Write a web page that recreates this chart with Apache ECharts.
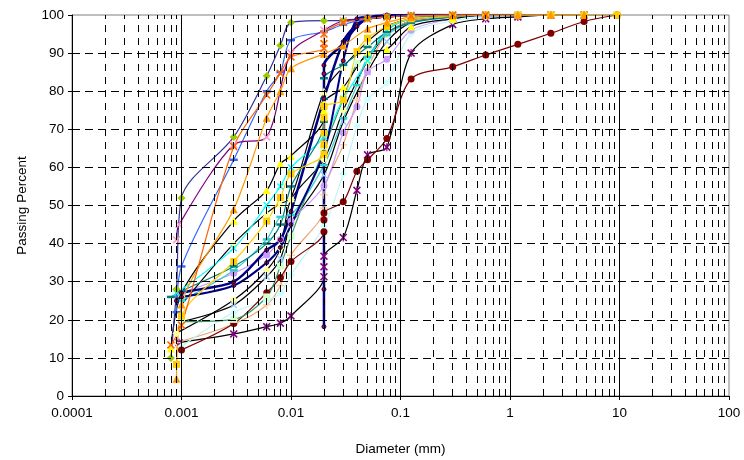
<!DOCTYPE html>
<html>
<head>
<meta charset="utf-8">
<script src="https://cdn.jsdelivr.net/npm/echarts@6/dist/echarts.min.js"></script>
<style>
  html, body { margin: 0; padding: 0; background: #fff; }
  #chart { width: 744px; height: 460px; }
</style>
</head>
<body>
<div id="chart"></div>
<script>
// Grain size distribution curves: [diameter (mm), percent passing]
const xTickLabels = ['0.0001', '0.001', '0.01', '0.1', '1', '10', '100'];
const percentLines = [10, 20, 30, 40, 50, 60, 70, 80, 90];
const decadeLines = [0.001, 0.01, 0.1, 1, 10];
const decadeStarts = [0.0001, 0.001, 0.01, 0.1, 1, 10];
const minorMultiples = [2, 3, 4, 5, 6, 7, 8, 9];

const sampleLime = [[0.0008,10],[0.0009,28],[0.001,52],[0.003,68],[0.006,84],[0.008,92],[0.01,98],[0.02,98.5],[0.03,98.5],[0.05,99],[0.075,99.5],[0.125,99.8],[0.3,100],[0.6,100],[1.18,100],[2.36,100],[4.75,100],[9.5,100]];
const samplePink = [[0.0009,41],[0.00095,45],[0.003,66],[0.006,68],[0.01,90],[0.02,96],[0.03,98.5],[0.05,99],[0.075,99.5],[0.125,100],[0.3,100],[0.6,100],[1.18,100],[2.36,100]];
const sampleOrangeX = [[0.0008,13.4],[0.001,18.6],[0.003,65.5],[0.006,79],[0.008,84.7],[0.01,89],[0.02,91.2],[0.02,92.5],[0.02,95],[0.03,98],[0.05,99],[0.075,99.5],[0.125,99.8],[0.3,100],[0.6,100]];
const sampleBlue = [[0.0009,22],[0.001,34],[0.003,62],[0.006,80],[0.008,85],[0.01,93.4],[0.02,95.6],[0.03,97.5],[0.05,99],[0.075,99.5],[0.125,100],[0.3,100],[0.6,100],[1.18,100]];
const sampleOrangeTri = [[0.0009,4.5],[0.001,24],[0.003,49],[0.006,73],[0.008,80],[0.01,86],[0.02,89.8],[0.03,92],[0.05,96.4],[0.075,98],[0.125,99.5],[0.3,100],[0.6,100],[1.18,100],[2.36,100],[4.75,100]];
const sampleYellow = [[0.0008,12.5],[0.001,27],[0.003,46],[0.006,54],[0.008,61],[0.01,63],[0.02,73],[0.02,75],[0.02,77],[0.03,81],[0.05,90],[0.075,91],[0.125,97],[0.3,99],[0.6,100],[1.18,100],[2.36,100]];
const sampleCyan = [[0.0009,27],[0.003,38.8],[0.006,50.1],[0.008,55],[0.01,60],[0.02,68],[0.03,78],[0.05,88],[0.075,96],[0.125,99],[0.3,100],[0.6,100]];
const sampleGold = [[0.0009,8.3],[0.001,21],[0.003,35.3],[0.006,45.9],[0.008,52.1],[0.01,58.3],[0.02,63.5],[0.02,66],[0.02,69],[0.02,73],[0.02,76],[0.03,77.7],[0.04,90.4],[0.05,93.9],[0.075,97],[0.125,99],[0.3,99.6],[0.6,100],[1.18,100],[2.36,100],[4.75,100],[9.5,100]];
const sampleLavender = [[0.001,27],[0.003,32.2],[0.006,37],[0.008,41.1],[0.01,45.9],[0.02,55.1],[0.03,69.1],[0.04,75.9],[0.05,85.1],[0.075,88.4],[0.125,96],[0.3,99],[0.6,100],[1.18,100]];
const sampleNavyA = [[0.02,18.2],[0.02,28],[0.02,84.6],[0.02,86.8],[0.03,92.5],[0.04,97],[0.05,99],[0.075,99.6],[0.125,100],[0.3,100],[0.6,100],[1.18,100]];
const sampleNavyB = [[0.0009,25],[0.001,27],[0.003,30],[0.006,38.3],[0.008,41],[0.01,48.4],[0.02,78],[0.03,93],[0.04,97.5],[0.05,99],[0.075,99.7],[0.125,100],[0.3,100]];
const sampleNavyC = [[0.001,26],[0.003,29],[0.006,35],[0.008,39],[0.01,45],[0.02,64],[0.03,88],[0.04,99],[0.05,99.5],[0.075,100],[0.125,100]];
const sampleAqua = [[0.001,25],[0.003,33],[0.006,41.1],[0.008,47],[0.01,47.5],[0.02,60.6],[0.03,72.9],[0.04,81.6],[0.05,89],[0.075,94.7],[0.125,98],[0.3,99.5],[0.6,100]];
const sampleTeal = [[0.0008,26],[0.001,27.5],[0.003,34],[0.006,40],[0.008,45],[0.01,55],[0.02,72],[0.02,78],[0.02,83.4],[0.03,86.9],[0.05,91.6],[0.075,95.5],[0.125,98],[0.3,99.5],[0.6,100]];
const sampleAsterisk = [[0.00095,14],[0.003,16.3],[0.006,18.2],[0.008,19.1],[0.01,21],[0.02,31.3],[0.02,33.9],[0.02,36.7],[0.03,41.6],[0.04,54],[0.05,63.3],[0.075,65.3],[0.125,90],[0.3,97.5],[0.6,99],[1.18,99.5],[2.36,100],[4.75,100]];
const sampleDarkRed = [[0.001,12.1],[0.003,19],[0.006,27.1],[0.008,31.1],[0.01,35.3],[0.02,43.1],[0.02,46.2],[0.02,48],[0.03,51],[0.04,59],[0.05,62],[0.075,67.6],[0.125,83.2],[0.3,86.4],[0.6,89.5],[1.18,92.3],[2.36,95.2],[4.75,98.3],[9.5,100]];
const sampleTan = [[0.0009,14],[0.003,18.9],[0.006,23.9],[0.008,29],[0.01,37],[0.02,49.3],[0.02,52.8],[0.03,65.9],[0.04,77.7],[0.05,86],[0.075,95],[0.125,98.5],[0.3,99.5],[0.6,100]];
const sampleIce = [[0.001,13],[0.003,22],[0.006,25],[0.008,27],[0.01,31.8],[0.02,44.6],[0.03,58.3],[0.04,70.9],[0.05,77.9],[0.075,82.2],[0.125,95],[0.3,98.5],[0.6,99.5],[1.18,100]];
const sampleMint = [[0.001,19.5],[0.003,20.1],[0.006,26],[0.008,34.1],[0.01,42],[0.02,65],[0.03,78],[0.04,87.3],[0.05,89],[0.075,96],[0.125,99],[0.3,100],[0.6,100]];
const sampleCream = [[0.0009,16.5],[0.003,25.2],[0.006,33],[0.008,38.8],[0.01,51.6],[0.02,62],[0.03,75],[0.05,88],[0.075,95],[0.125,98.5],[0.3,99.5],[0.6,100]];
const sampleSky = [[0.001,19.5],[0.003,23.9],[0.006,31.3],[0.008,36],[0.01,44.9],[0.02,58],[0.03,72],[0.05,85],[0.075,93],[0.125,98],[0.3,99.5],[0.6,100]];
const sampleButter = [[0.001,24],[0.003,40],[0.006,48],[0.008,50.5],[0.01,51.9],[0.02,79.9],[0.03,86.4],[0.05,93],[0.075,97],[0.125,99],[0.3,100]];

// marker shapes
const SYM_X = 'path://M0,1.4L1.4,0L5,3.6L8.6,0L10,1.4L6.4,5L10,8.6L8.6,10L5,6.4L1.4,10L0,8.6L3.6,5Z';
const SYM_STAR = 'path://M0,1.4L1.4,0L5,3.6L8.6,0L10,1.4L6.4,5L10,8.6L8.6,10L5,6.4L1.4,10L0,8.6L3.6,5Z M4.3,0L5.7,0L5.7,10L4.3,10Z';
const SYM_PLUS = 'path://M4.2,0H5.8V4.2H10V5.8H5.8V10H4.2V5.8H0V4.2H4.2Z';
const DASH = { symbol: 'rect', size: [8, 2.5] };

function curve(data, lineColor, markerColor, symbol, size, width, border) {
  return {
    type: 'line',
    data: data,
    smooth: 0.3,
    symbol: symbol,
    symbolSize: size,
    showSymbol: symbol !== 'none',
    lineStyle: { color: lineColor, width: width || 1.2 },
    itemStyle: Object.assign({ color: markerColor }, border || {}),
    emphasis: { disabled: true },
    silent: true
  };
}

const redDot = { borderColor: '#000080', borderWidth: 1 };

const series = [
  curve(sampleAsterisk, '#000000', '#800080', SYM_STAR, 8),
  curve(sampleCream, '#000000', '#FFFF99', 'diamond', 8),
  curve(sampleSky, '#000000', '#99CCFF', SYM_X, 7),
  curve(sampleTan, '#E8A878', '#FFCC99', SYM_PLUS, 8),
  curve(sampleIce, '#BFF5F5', '#CCFFFF', 'diamond', 8),
  curve(sampleDarkRed, '#800000', '#800000', 'circle', 7),
  curve(sampleMint, '#339966', '#CCFFCC', 'rect', 7),
  curve(sampleLavender, '#CC99FF', '#CC99FF', 'circle', 7),
  curve(sampleButter, '#000000', '#FFFF99', 'triangle', 8),
  curve(sampleYellow, '#000000', '#FFFF00', 'triangle', 8),
  curve(sampleCyan, '#00FFFF', '#00FFFF', SYM_X, 7),
  curve(sampleAqua, '#33CCCC', '#33CCCC', DASH.symbol, DASH.size),
  curve(sampleTeal, '#008080', '#008080', DASH.symbol, DASH.size),
  curve(sampleNavyC, '#000080', '#CC0000', 'circle', 4, 2, redDot),
  curve(sampleNavyB, '#000080', '#CC0000', 'circle', 4, 2.5, redDot),
  curve(sampleNavyA, '#000080', '#CC0000', 'circle', 4, 2.5, redDot),
  curve(sampleBlue, '#3366FF', '#3366FF', DASH.symbol, DASH.size),
  curve(samplePink, '#800080', '#FF99CC', SYM_X, 8),
  curve(sampleLime, '#333399', '#99CC00', 'diamond', 8),
  curve(sampleGold, '#FFCC00', '#FFCC00', 'rect', 7),
  curve(sampleOrangeTri, '#FF9900', '#FF9900', 'triangle', 8),
  curve(sampleOrangeX, '#FF6600', '#FF6600', SYM_X, 8)
];

// gridlines drawn through the axes' own scales
const gridMarks = [];
percentLines.forEach(p => gridMarks.push({ yAxis: p, lineStyle: { color: '#000', width: 1, type: [8, 5] } }));
decadeStarts.forEach(d => minorMultiples.forEach(m => {
  gridMarks.push({ xAxis: +(d * m).toPrecision(3), lineStyle: { color: '#000', width: 1, type: [7, 6] } });
}));
decadeLines.forEach(d => gridMarks.push({ xAxis: d, lineStyle: { color: '#000', width: 1, type: 'solid' } }));

series.unshift({
  type: 'line',
  data: [],
  z: 1,
  silent: true,
  markLine: {
    silent: true,
    precision: 10,
    symbol: ['none', 'none'],
    label: { show: false },
    animation: false,
    emphasis: { disabled: true },
    data: gridMarks
  }
});

const font = 'Liberation Sans, Arial, sans-serif';
const chart = echarts.init(document.getElementById('chart'), null, { renderer: 'canvas' });
chart.setOption({
  animation: false,
  backgroundColor: '#fff',
  grid: {
    left: 72, right: 15, top: 15, bottom: 64,
    show: true, borderColor: '#808080', borderWidth: 1,
    containLabel: false, outerBoundsMode: 'none'
  },
  xAxis: {
    type: 'log', logBase: 10, min: 0.0001, max: 100,
    name: 'Diameter (mm)', nameLocation: 'middle', nameGap: 46,
    nameTextStyle: { color: '#000', fontSize: 13.5, fontFamily: font },
    axisLine: { show: true, lineStyle: { color: '#000', width: 1 } },
    axisTick: { show: true, length: 4, lineStyle: { color: '#000' } },
    axisLabel: {
      color: '#000', fontSize: 13.5, fontFamily: font, margin: 10,
      formatter: v => xTickLabels[Math.round(Math.log10(v)) + 4]
    },
    splitLine: { show: false }
  },
  yAxis: {
    type: 'value', min: 0, max: 100, interval: 10,
    name: 'Passing Percent', nameLocation: 'middle', nameGap: 43, nameRotate: 90,
    nameTextStyle: { color: '#000', fontSize: 13.5, fontFamily: font },
    axisLine: { show: true, lineStyle: { color: '#000', width: 1 } },
    axisTick: { show: true, length: 4, lineStyle: { color: '#000' } },
    axisLabel: { color: '#000', fontSize: 13.5, fontFamily: font, margin: 8 },
    splitLine: { show: false }
  },
  series: series
});
</script>
</body>
</html>
